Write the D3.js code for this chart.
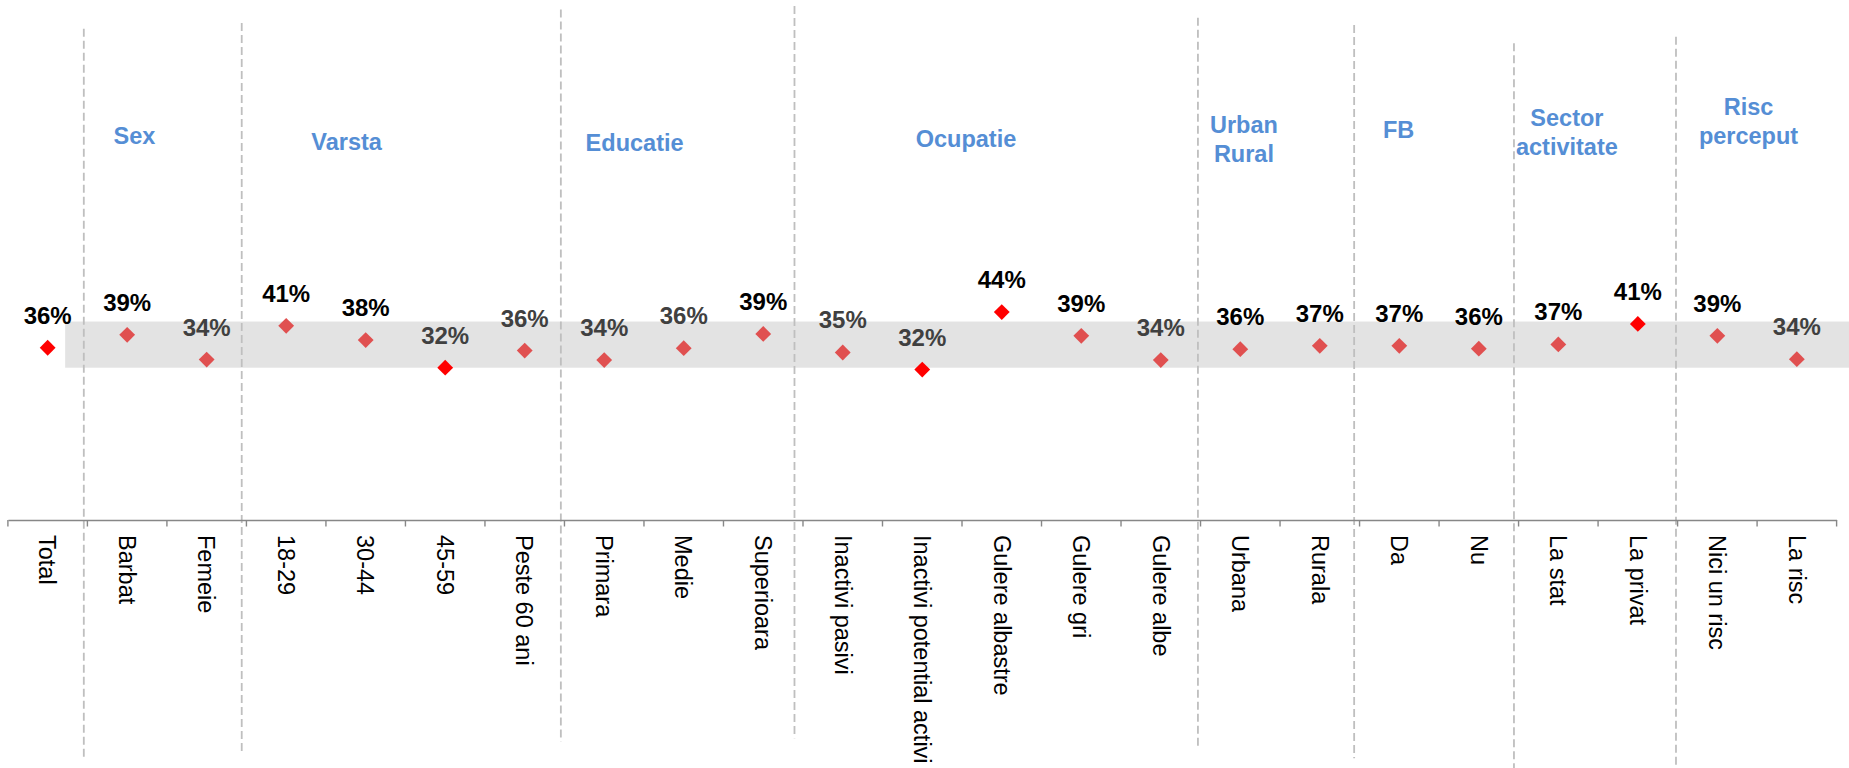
<!DOCTYPE html>
<html>
<head>
<meta charset="utf-8">
<script src="https://cdn.jsdelivr.net/npm/d3@7"></script>
<style>
  html, body { margin: 0; padding: 0; background: #fff; }
  svg { display: block; font-family: "Liberation Sans", Arial, sans-serif; }
</style>
</head>
<body>
<svg id="chart" width="1849" height="768"></svg>
<script>
// ---------------- DATA ----------------
const categories = ["Total", "Barbat", "Femeie", "18-29", "30-44", "45-59", "Peste 60 ani",
  "Primara", "Medie", "Superioara", "Inactivi pasivi", "Inactivi potential activi",
  "Gulere albastre", "Gulere gri", "Gulere albe", "Urbana", "Rurala", "Da", "Nu",
  "La stat", "La privat", "Nici un risc", "La risc"];
const values = [0.362, 0.389, 0.337, 0.408, 0.378, 0.320, 0.356,
  0.336, 0.361, 0.391, 0.352, 0.316,
  0.437, 0.387, 0.336, 0.359, 0.366, 0.366, 0.360,
  0.369, 0.412, 0.387, 0.338];
const valueLabels = ["36%", "39%", "34%", "41%", "38%", "32%", "36%",
  "34%", "36%", "39%", "35%", "32%",
  "44%", "39%", "34%", "36%", "37%", "37%", "36%",
  "37%", "41%", "39%", "34%"];
// points marked in pure red in the original
const highlighted = ["Total", "45-59", "Inactivi potential activi", "Gulere albastre", "La privat"];
// labels printed in dark grey in the original
const greyLabels = ["Femeie", "45-59", "Peste 60 ani", "Primara", "Medie", "Inactivi pasivi",
  "Inactivi potential activi", "Gulere albe", "La risc"];
// reference band (low, high)
const bandLow = 0.32;
const bandHigh = 0.417;
// groups
const groupNames = [["Sex"], ["Varsta"], ["Educatie"], ["Ocupatie"], ["Urban", "Rural"], ["FB"],
  ["Sector", "activitate"], ["Risc", "perceput"]];
const groupStart = ["Barbat", "18-29", "Primara", "Inactivi pasivi", "Urbana", "Da", "La stat", "Nici un risc"];
const groupEnd = ["Femeie", "Peste 60 ani", "Superioara", "Gulere albe", "Rurala", "Nu", "La privat", "La risc"];

// ---------------- LAYOUT / STYLE ----------------
const W = 1849, H = 768;
const axisY = 520;
// group title placement: fraction across group span, first baseline
const groupTitleLayout = [
  {t: 0.296, base: 144}, {t: 0.315, base: 150}, {t: 0.294, base: 150.5}, {t: 0.41, base: 146.5},
  {t: 0.273, base: 133.3}, {t: 0.246, base: 138.3}, {t: 0.304, base: 126}, {t: 0.446, base: 115.3}
];
const titleLineHeight = 29;
// divider lines: offset from group's left boundary, top, bottom
const dividerLayout = [
  {dx: -3.6, top: 28.7, bottom: 756.7}, {dx: -4.7, top: 23, bottom: 753.3},
  {dx: -3.6, top: 9.6, bottom: 741.7}, {dx: -8.5, top: 6, bottom: 738.3},
  {dx: -2.6, top: 17.8, bottom: 748.3}, {dx: -5.4, top: 25, bottom: 758.3},
  {dx: -4.6, top: 43.3, bottom: 768}, {dx: -1.6, top: 36.7, bottom: 768}
];
const blue = "#558ED5";

const svg = d3.select("#chart");

const x = d3.scaleBand().domain(categories).range([7.9, 1836.6]).padding(0);
const y = d3.scaleLinear().domain([0, 1]).range([axisY, axisY - 475.9]);
const cx = c => x(c) + x.bandwidth() / 2;

// reference band
svg.append("rect")
  .attr("x", cx("Total") + x.bandwidth() * 0.22)
  .attr("y", y(bandHigh))
  .attr("width", W - (cx("Total") + x.bandwidth() * 0.22))
  .attr("height", y(bandLow) - y(bandHigh))
  .attr("fill", "#E3E3E3");

// dividers
svg.append("g").selectAll("line")
  .data(groupStart)
  .join("line")
  .attr("x1", (d, i) => x(d) + dividerLayout[i].dx)
  .attr("x2", (d, i) => x(d) + dividerLayout[i].dx)
  .attr("y1", (d, i) => dividerLayout[i].top)
  .attr("y2", (d, i) => dividerLayout[i].bottom)
  .attr("stroke", "#BFBFBF")
  .attr("stroke-width", 1.8)
  .attr("stroke-dasharray", "8,4");

// group titles
groupNames.forEach((lines, i) => {
  const left = x(groupStart[i]);
  const right = x(groupEnd[i]) + x.bandwidth();
  const gx = left + (right - left) * groupTitleLayout[i].t;
  const t = svg.append("text")
    .attr("x", gx)
    .attr("y", groupTitleLayout[i].base)
    .attr("text-anchor", "middle")
    .attr("font-size", "23.5px")
    .attr("font-weight", "bold")
    .attr("fill", blue);
  lines.forEach((ln, j) => {
    t.append("tspan").attr("x", gx).attr("dy", j === 0 ? 0 : titleLineHeight).text(ln);
  });
});

// axis
const axis = d3.axisBottom(x).tickSize(0).tickSizeOuter(0);
const ax = svg.append("g").attr("transform", `translate(0,${axisY})`).call(axis);
ax.select(".domain").attr("stroke", "#878787").attr("stroke-width", 1.6);
ax.selectAll(".tick text")
  .attr("transform", "rotate(90)")
  .attr("x", 15)
  .attr("y", 0)
  .attr("dy", "0.35em")
  .attr("text-anchor", "start")
  .attr("font-size", "23.5px")
  .attr("font-family", "'Liberation Sans', Arial, sans-serif")
  .attr("fill", "#000");
// boundary ticks
const bounds = categories.map(c => x(c)).concat([x(categories[categories.length - 1]) + x.bandwidth()]);
ax.append("g").selectAll("line")
  .data(bounds)
  .join("line")
  .attr("x1", d => d).attr("x2", d => d)
  .attr("y1", 0).attr("y2", 6.5)
  .attr("stroke", "#878787")
  .attr("stroke-width", 1.4);

// points
const sym = d3.symbol().type(d3.symbolSquare).size(125);
svg.append("g").selectAll("path")
  .data(categories)
  .join("path")
  .attr("d", sym)
  .attr("transform", (d, i) => `translate(${cx(d)},${y(values[i])}) rotate(45)`)
  .attr("fill", d => highlighted.includes(d) ? "#FF0000" : "#E05050");

// value labels
svg.append("g").selectAll("text")
  .data(categories)
  .join("text")
  .attr("x", d => cx(d))
  .attr("y", (d, i) => y(values[i]) - 24)
  .attr("text-anchor", "middle")
  .attr("font-size", "24px")
  .attr("font-weight", "bold")
  .attr("fill", d => greyLabels.includes(d) ? "#404040" : "#000")
  .text((d, i) => valueLabels[i]);
</script>
</body>
</html>
